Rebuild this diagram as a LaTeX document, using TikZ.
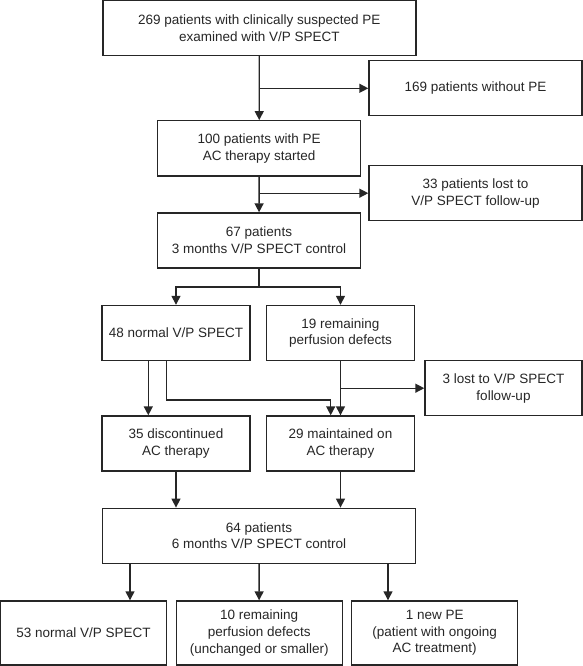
\documentclass[tikz,border=0pt]{standalone}
\usepackage{fontspec}
\setmainfont{Liberation Sans}
\usetikzlibrary{arrows.meta, calc}

\begin{document}
\begin{tikzpicture}[x=1pt, y=-1pt, >={Triangle[length=9pt, width=9pt]}, line width=1.4pt, black!85]
	\tikzstyle{box} = [draw, rectangle, align=center, inner sep=0pt, text=black!85, font=\fontsize{13.5}{16.7}\selectfont]
	\tikzstyle{wide} = [box, minimum width=313pt, minimum height=55pt]
	\tikzstyle{mid} = [box, minimum width=203pt, minimum height=55pt]
	\tikzstyle{side} = [box, minimum width=213pt, minimum height=55pt]
	\tikzstyle{small} = [box, minimum width=148pt, minimum height=55pt]
	\tikzstyle{foot} = [box, minimum width=166pt, minimum height=64pt]

	\useasboundingbox (0,0) rectangle (583,666);

	\path
		node[wide] (all) at (259.3,28) {269 patients with clinically suspected PE\\examined with V/P SPECT}
		node[side] (nope) at (475.5,88.3) {169 patients without PE}
		node[mid] (pe) at (259.2,148.3) {100 patients with PE\\AC therapy started}
		node[side] (lost1) at (475.5,193.2) {33 patients lost to\\V/P SPECT follow-up}
		node[mid] (m3) at (259,240.5) {67 patients\\3 months V/P SPECT control}
		node[small] (normal) at (176,333) {48 normal V/P SPECT}
		node[small] (defects) at (340.5,333) {19 remaining\\perfusion defects}
		node[box, minimum width=157pt, minimum height=55pt] (lost2) at (503.5,388.2) {3 lost to V/P SPECT\\follow-up}
		node[small] (disc) at (176,443.5) {35 discontinued\\AC therapy}
		node[small] (maint) at (340.5,443.5) {29 maintained on\\AC therapy}
		node[wide] (m6) at (259,535.8) {64 patients\\6 months V/P SPECT control}
		node[foot] (r1) at (83.6,633) {53 normal V/P SPECT}
		node[foot] (r2) at (259.2,633) {10 remaining\\perfusion defects\\(unchanged or smaller)}
		node[foot] (r3) at (434.7,633) {1 new PE\\(patient with ongoing\\AC treatment)}
	;

	\draw[->] (all) -- (pe);
	\draw[->] (all.south |- nope.west) -- (nope.west);
	\draw[->] (pe) -- (m3);
	\draw[->] (pe.south |- lost1.west) -- (lost1.west);

	\draw[->] (m3.south) -- ++(0,18.4) -| (normal.north);
	\draw[->] (m3.south) -- ++(0,18.4) -| (defects.north);

	\draw[->] ([xshift=-27.7pt]normal.south) -- ([xshift=-27.7pt]disc.north);
	\draw[->] ([xshift=-9.3pt]normal.south) -- ++(0,38.6) -| ([xshift=-9.8pt]maint.north);
	\draw[->] (defects) -- (maint);
	\draw[->] (defects.south |- lost2.west) -- (lost2.west);

	\draw[->] (disc.south) -- (disc.south |- m6.north);
	\draw[->] (maint.south) -- (maint.south |- m6.north);

	\draw[->] ([xshift=-129pt]m6.south) -- ([xshift=-129pt]m6.south |- r1.north);
	\draw[->] (m6) -- (r2);
	\draw[->] ([xshift=129pt]m6.south) -- ([xshift=129pt]m6.south |- r3.north);
\end{tikzpicture}
\end{document}
